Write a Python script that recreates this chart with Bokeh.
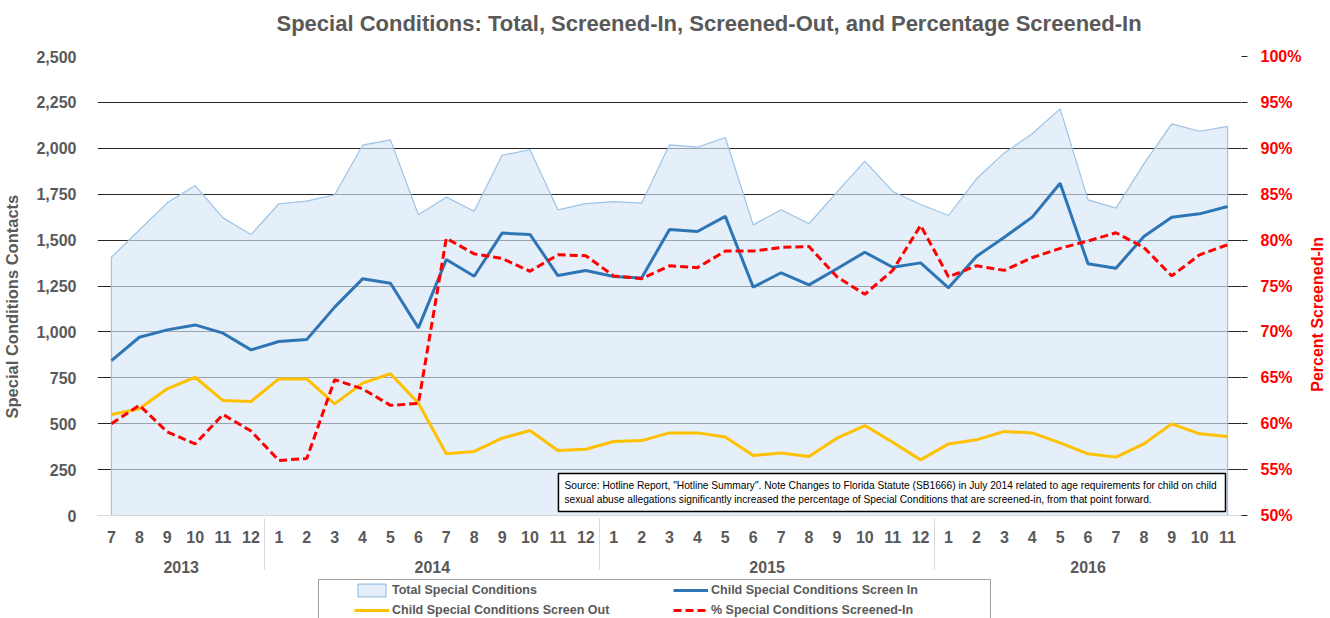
import math
from bokeh.plotting import figure
from bokeh.layouts import column, row
from bokeh.models import (FactorRange, Range1d, LinearAxis, FixedTicker, NumeralTickFormatter,
                          PrintfTickFormatter, Legend, LegendItem, Label, Title)
from bokeh.embed import file_html
from bokeh.resources import INLINE

years = ["2013"] * 6 + ["2014"] * 12 + ["2015"] * 12 + ["2016"] * 11
months = ["7", "8", "9", "10", "11", "12"] + \
         ["1", "2", "3", "4", "5", "6", "7", "8", "9", "10", "11", "12"] + \
         ["1", "2", "3", "4", "5", "6", "7", "8", "9", "10", "11", "12"] + \
         ["1", "2", "3", "4", "5", "6", "7", "8", "9", "10", "11"]

total = [1407, 1555, 1703, 1797, 1621, 1530,
         1698, 1712, 1747, 2017, 2046, 1638, 1734, 1657, 1962, 1992, 1665, 1699,
         1710, 1701, 2019, 2006, 2059, 1583, 1665, 1589, 1761, 1930, 1765, 1694,
         1634, 1834, 1975, 2079, 2215, 1719, 1674, 1915, 2133, 2093, 2119]
screen_in = [844, 971, 1011, 1038, 993, 902,
             948, 959, 1135, 1289, 1265, 1022, 1394, 1303, 1538, 1531, 1307, 1334,
             1302, 1293, 1558, 1547, 1629, 1244, 1322, 1256, 1344, 1434, 1352, 1376,
             1240, 1411, 1516, 1625, 1810, 1371, 1347, 1520, 1625, 1643, 1683]
screen_out = [550, 581, 690, 753, 626, 621,
              744, 744, 608, 721, 772, 612, 336, 349, 421, 463, 354, 361,
              403, 408, 450, 450, 427, 327, 341, 321, 421, 490, 399, 303,
              390, 412, 458, 450, 396, 336, 318, 390, 499, 445, 430]
pct_in = [60.0, 62.0, 59.1, 57.8, 61.0, 59.2,
          56.0, 56.2, 64.8, 63.8, 62.0, 62.2, 80.2, 78.5, 78.0, 76.6, 78.4, 78.3,
          76.1, 75.8, 77.2, 77.0, 78.8, 78.8, 79.2, 79.3, 76.0, 74.1, 76.7, 81.6,
          76.0, 77.2, 76.7, 78.1, 79.1, 79.9, 80.8, 79.2, 76.1, 78.4, 79.5]

left_ticks = [0, 250, 500, 750, 1000, 1250, 1500, 1750, 2000, 2250, 2500]
right_ticks = [50, 55, 60, 65, 70, 75, 80, 85, 90, 95, 100]

title_text = "Special Conditions: Total, Screened-In, Screened-Out, and Percentage Screened-In"
left_title = "Special Conditions Contacts"
right_title = "Percent Screened-In"
note_text = ("Source: Hotline Report, \"Hotline Summary\".  Note Changes to Florida Statute (SB1666) in July 2014 "
             "related to age requirements for child on child\n"
             "sexual abuse allegations significantly increased the percentage of Special Conditions that are "
             "screened-in, from that point forward.")
legend_labels = ["Total Special Conditions", "Child Special Conditions Screen Out",
                 "Child Special Conditions Screen In", "% Special Conditions Screened-In"]

FONT = "Liberation Sans"
GRAY = "#595959"
RED = "#FF0000"
NBSP = "\u00a0"

factors = list(zip(years, months))
xr = FactorRange(factors=factors, factor_padding=0, group_padding=0, range_padding=0)
pct_range = Range1d(50, 100)

p = figure(x_range=xr, y_range=Range1d(0, 2500), width=1304, height=577,
           output_backend="svg", toolbar_location=None,
           min_border_left=97, min_border_right=63, min_border_top=56, min_border_bottom=62)
p.title = None
p.outline_line_color = None
p.background_fill_color = "white"
p.border_fill_color = "white"

# titles: a thin spacer next to the frame, then the chart title above it
p.add_layout(Title(text=" ", text_font_size="1px", standoff=10), "above")
p.add_layout(Title(text=title_text, align="left", offset=179, standoff=16,
                   text_font=FONT, text_font_size="22px", text_font_style="bold",
                   text_color=GRAY), "above")

# left axis
ya = p.yaxis[0]
ya.ticker = FixedTicker(ticks=left_ticks)
ya.formatter = NumeralTickFormatter(format="0,0")
ya.axis_line_color = None
ya.major_tick_line_color = None
ya.minor_tick_line_color = None
ya.major_label_standoff = 15
ya.major_label_text_font = FONT
ya.major_label_text_font_size = "16px"
ya.major_label_text_font_style = "bold"
ya.major_label_text_color = GRAY
ya.axis_label = left_title + NBSP * 9
ya.axis_label_text_font = FONT
ya.axis_label_text_font_size = "16.5px"
ya.axis_label_text_font_style = "bold"
ya.axis_label_text_color = GRAY
ya.axis_label_standoff = 12

p.ygrid.ticker = FixedTicker(ticks=left_ticks)
p.ygrid.grid_line_color = "#262626"
p.ygrid.grid_line_width = 1
p.xgrid.grid_line_color = None

# right axis
p.extra_y_ranges = {"pct": pct_range}
ra = LinearAxis(y_range_name="pct", ticker=FixedTicker(ticks=right_ticks),
                formatter=PrintfTickFormatter(format="%d%%"))
ra.axis_line_color = None
ra.major_tick_in = 0
ra.major_tick_out = 6
ra.major_tick_line_color = "#262626"
ra.minor_tick_line_color = None
ra.major_label_standoff = 13
ra.major_label_text_font = FONT
ra.major_label_text_font_size = "16px"
ra.major_label_text_font_style = "bold"
ra.major_label_text_color = RED
p.add_layout(ra, "right")

# bottom axis
xa = p.xaxis[0]
xa.axis_line_color = "#D9D9D9"
xa.major_tick_line_color = None
xa.major_tick_out = 0
xa.minor_tick_line_color = None
xa.major_label_standoff = 15
xa.major_label_text_font = FONT
xa.major_label_text_font_size = "16px"
xa.major_label_text_font_style = "bold"
xa.major_label_text_color = GRAY
xa.group_text_font = FONT
xa.group_text_font_size = "16px"
xa.group_text_font_style = "bold"
xa.group_text_color = GRAY
xa.separator_line_color = "#D9D9D9"
xa.separator_line_width = 1

# data
AREA = dict(fill_color="#D5E6F6", fill_alpha=0.65, line_color="#9DC3E6", line_width=1.2)
IN_STYLE = dict(line_color="#2E75B6", line_width=3)
OUT_STYLE = dict(line_color="#FFC000", line_width=3)
PCT_STYLE = dict(line_color=RED, line_width=3, line_dash="8 4")

xs_area = [factors[0]] + factors + [factors[-1]]
ys_area = [0] + total + [0]
p.patch(xs_area, ys_area, **AREA)
p.line(factors, screen_in, **IN_STYLE)
p.line(factors, screen_out, **OUT_STYLE)
p.line(factors, pct_in, y_range_name="pct", **PCT_STYLE)

note = Label(x=16.52, y=22, x_units="data", y_units="data", text=note_text,
             text_font=FONT, text_font_size="10.2px", text_color="#000000", text_line_height=1.35,
             background_fill_color="white", border_line_color="#000000", border_line_width=1.5,
             padding=6, anchor="bottom_left")
p.add_layout(note)

# right-hand axis title strip (reads bottom-to-top like the reference)
rf = figure(width=26, height=577, x_range=Range1d(0, 26), y_range=pct_range,
            output_backend="svg", toolbar_location=None,
            x_axis_location=None, y_axis_location=None, min_border=0)
rf.title = None
rf.outline_line_color = None
rf.grid.grid_line_color = None
rf.add_layout(Label(x=13, y=72.8, text=right_title, angle=math.pi / 2,
                    text_font=FONT, text_font_size="16px", text_font_style="bold", text_color=RED,
                    text_align="center", text_baseline="middle"))

# legend strip below the chart: same series, drawn out of its (empty) view
lg = figure(width=1304, height=41, x_range=xr, y_range=Range1d(-20, -10),
            output_backend="svg", toolbar_location=None,
            x_axis_location=None, y_axis_location=None, min_border=0)
lg.title = None
lg.outline_line_color = None
lg.grid.grid_line_color = None
g_total = lg.patch(xs_area, ys_area, **AREA)
g_out = lg.line(factors, screen_out, **OUT_STYLE)
g_in = lg.line(factors, screen_in, **IN_STYLE)
g_pct = lg.line(factors, pct_in, **PCT_STYLE)

legend = Legend(items=[LegendItem(label=legend_labels[0], renderers=[g_total]),
                       LegendItem(label=legend_labels[1], renderers=[g_out]),
                       LegendItem(label=legend_labels[2], renderers=[g_in]),
                       LegendItem(label=legend_labels[3], renderers=[g_pct])],
                location=(221, -3), orientation="vertical", ncols=2,
                glyph_width=35, glyph_height=16, label_height=16, label_width=277,
                label_standoff=3, spacing=4, padding=2, margin=0,
                border_line_color="#404040", border_line_width=1.5,
                label_text_font=FONT, label_text_font_size="12.5px", label_text_font_style="bold",
                label_text_color=GRAY,
                title=" ", title_location="left", title_text_font_size="20px", title_standoff=10)
lg.add_layout(legend, "center")

layout = row(column(p, lg, spacing=0), rf, spacing=0)
open("out.html", "w").write(file_html(layout, INLINE))
